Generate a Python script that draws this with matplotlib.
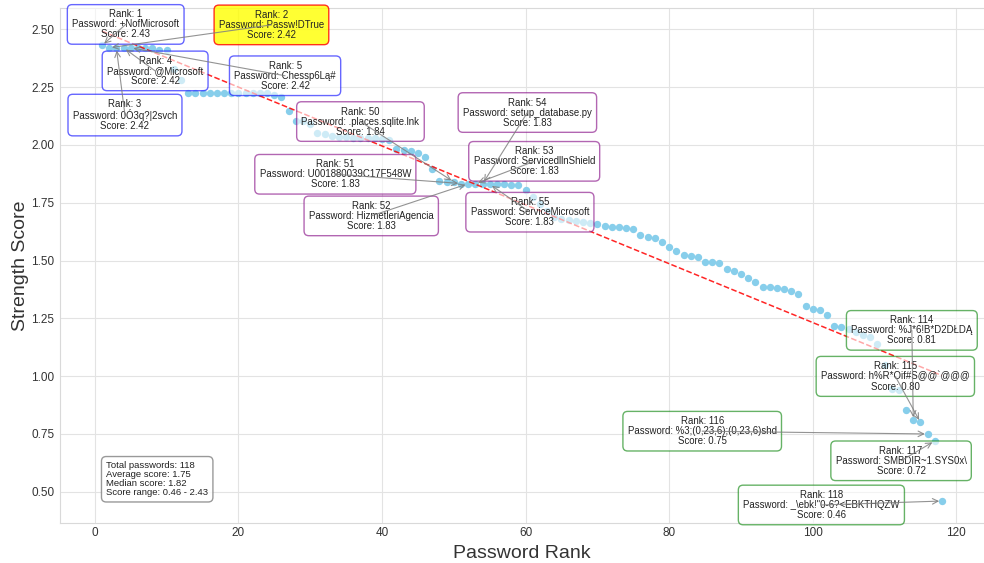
import numpy as np
import matplotlib
matplotlib.use("Agg")
import matplotlib.pyplot as plt
import seaborn as sns

# ─── DATA ─────────────────────────────────────────────────────
SCORES = [
    2.43, 2.42, 2.42, 2.42, 2.42, 2.42, 2.42, 2.42, 2.41, 2.41,          # 1-10
    2.33, 2.28, 2.226, 2.226, 2.226, 2.226, 2.226, 2.226, 2.226, 2.226,  # 11-20
    2.226, 2.226, 2.226, 2.226, 2.215, 2.205, 2.148, 2.103, 2.103, 2.089,  # 21-30
    2.050, 2.046, 2.038, 2.035, 2.033, 2.031, 2.029, 2.029, 2.029, 2.024,  # 31-40
    2.021, 1.982, 1.978, 1.974, 1.963, 1.946, 1.896, 1.842, 1.841, 1.84,   # 41-50
    1.833, 1.832, 1.832, 1.831, 1.830, 1.829, 1.829, 1.828, 1.826, 1.805,  # 51-60
    1.775, 1.745, 1.715, 1.69, 1.678, 1.677, 1.672, 1.665, 1.661, 1.656,   # 61-70
    1.649, 1.644, 1.643, 1.641, 1.635, 1.61, 1.603, 1.599, 1.581, 1.56,    # 71-80
    1.541, 1.524, 1.52, 1.516, 1.495, 1.492, 1.491, 1.463, 1.456, 1.44,    # 81-90
    1.423, 1.406, 1.387, 1.384, 1.38, 1.375, 1.368, 1.355, 1.305, 1.289,   # 91-100
    1.286, 1.264, 1.217, 1.211, 1.202, 1.192, 1.178, 1.168, 1.139, 1.05,   # 101-110
    0.943, 0.94, 0.853, 0.81, 0.80, 0.75, 0.72, 0.46,                     # 111-118
]
RANKS = np.arange(1, len(SCORES) + 1)

# passwords shown in the callouts, keyed by rank
LABELED_RANKS = [1, 2, 3, 4, 5, 50, 51, 52, 53, 54, 55, 114, 115, 116, 117, 118]
LABELED_PASSWORDS = [
    "+NofMicrosoft", "Passw!DTrue", "0Ó3q?|2svch", "@Microsoft", "Chessp6Lą#",
    ".places.sqlite.lnk", "U001880039C17F548W", "HizmetleriAgencia",
    "ServicedllnShield", "setup_database.py", "ServiceMicrosoft",
    "%J*6!B*D2DŁDĄ", "h%R*Oif#S@@`@@@", "%3;(0,23,6);(0,23,6)shd",
    "SMBDIR~1.SYS0x\\", "_\\ebk!\"0-6?<EBKTHQZW",
]
# ──────────────────────────────────────────────────────────────

# where each callout box sits, relative to its point (rank, score units)
LABEL_OFFSETS = {
    1: (3.3, 0.091), 2: (22.6, 0.099), 3: (1.2, -0.291), 4: (4.4, -0.10),
    5: (21.5, -0.121),
    50: (-13.0, 0.261), 51: (-17.5, 0.04), 52: (-13.5, -0.139),
    53: (8.2, 0.097), 54: (6.25, 0.309), 55: (5.6, -0.121),
    114: (-0.2, 0.388), 115: (-3.5, 0.199), 116: (-31.4, 0.012),
    117: (-4.7, -0.086), 118: (-16.8, -0.017),
}


def box_style(rank):
    # top ranks blue, middle purple, bottom green; rank 2 highlighted
    if rank == 2:
        return dict(boxstyle="round,pad=0.5", fc="yellow", ec="red", alpha=0.8)
    if rank <= 5:
        color = "blue"
    elif rank <= 60:
        color = "purple"
    else:
        color = "green"
    return dict(boxstyle="round,pad=0.5", fc="white", ec=color, alpha=0.6)


sns.set_style("whitegrid", {"grid.color": ".89", "axes.edgecolor": ".85"})
plt.rcParams["font.family"] = ["Liberation Sans", "DejaVu Sans"]

fig = plt.figure(figsize=(9.84, 5.63), dpi=100)
ax = fig.add_axes([60 / 984, 40 / 563, 924 / 984, 515 / 563])

scores = np.array(SCORES)
ax.scatter(RANKS, scores, s=28, color="skyblue", linewidths=0, zorder=2)

# linear trend over rank
coef = np.polyfit(RANKS, scores, 1)
ax.plot(RANKS, np.polyval(coef, RANKS), "r--", lw=1.1, alpha=0.85, zorder=3)

for rank, pwd in zip(LABELED_RANKS, LABELED_PASSWORDS):
    score = scores[rank - 1]
    dx, dy = LABEL_OFFSETS[rank]
    tx, ty = rank + dx, score + dy
    label = f"Rank: {rank}\nPassword: {pwd}\nScore: {score:.2f}"
    ax.text(tx, ty, label, ha="center", va="center", fontsize=6.9,
            linespacing=1.0, color="#222222", bbox=box_style(rank), zorder=4)
    ax.annotate("", xy=(rank, score), xytext=(tx, ty),
                arrowprops=dict(arrowstyle="->", color="gray", lw=0.8,
                                alpha=0.85, shrinkA=0, shrinkB=2),
                zorder=5)

stats = (f"Total passwords: {len(scores)}\n"
         f"Average score: {scores.mean():.2f}\n"
         f"Median score: {np.median(scores):.2f}\n"
         f"Score range: {scores.min():.2f} - {scores.max():.2f}")
ax.text(0.05, 0.05, stats, transform=ax.transAxes, ha="left", va="bottom",
        fontsize=6.8, linespacing=1.0, color="#222222",
        bbox=dict(boxstyle="round,pad=0.5", fc="white", ec="gray", alpha=0.8),
        zorder=6)

ax.set_xlim(-4.85, 123.85)
ax.set_ylim(0.365, 2.592)
ax.set_xticks([0, 20, 40, 60, 80, 100, 120])
ax.set_yticks([0.5, 0.75, 1.0, 1.25, 1.5, 1.75, 2.0, 2.25, 2.5])
ax.yaxis.set_major_formatter(matplotlib.ticker.FormatStrFormatter("%.2f"))
ax.tick_params(axis="both", length=0, labelsize=8.5, colors="#333333")
ax.tick_params(axis="y", pad=4)
ax.tick_params(axis="x", pad=3)
ax.set_xlabel("Password Rank", fontsize=14, color="#333333", labelpad=4)
ax.set_ylabel("Strength Score", fontsize=14, color="#333333", labelpad=2)
ax.spines["right"].set_visible(False)

fig.savefig("out.png", dpi=100)
